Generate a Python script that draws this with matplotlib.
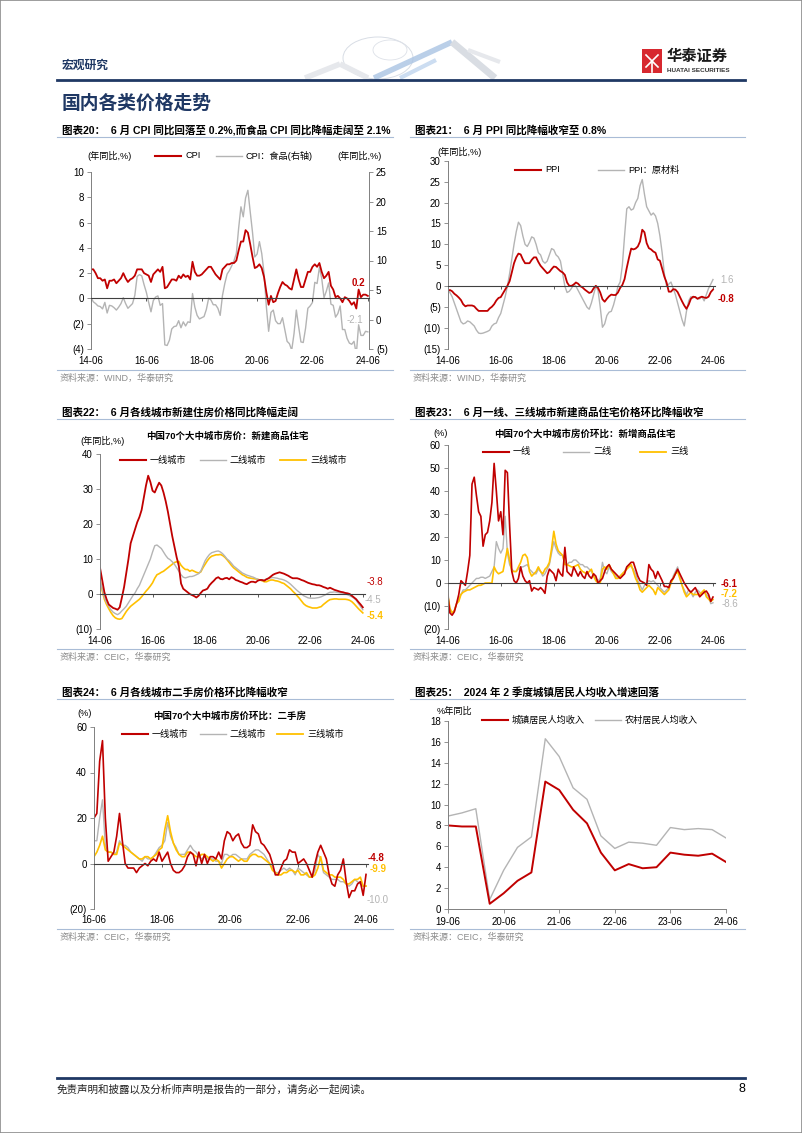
import matplotlib.pyplot as plt
from matplotlib.lines import Line2D
from matplotlib.patches import Rectangle, Ellipse
from matplotlib.ticker import FuncFormatter

plt.rcParams['font.family'] = ['Liberation Sans', 'Noto Sans CJK SC']

# ---------------- data ----------------
MONTH_TICKS = [0, 24, 48, 72, 96, 120]
MONTH_LABELS = ['14-06', '16-06', '18-06', '20-06', '22-06', '24-06']
SH_TICKS = [0, 24, 48, 72, 96]
SH_LABELS = ['16-06', '18-06', '20-06', '22-06', '24-06']
Q_TICKS = [0, 4, 8, 12, 16, 20]
Q_LABELS = ['19-06', '20-06', '21-06', '22-06', '23-06', '24-06']

# chart 20: CPI yoy, 2014-06 .. 2024-06
cpi = [2.3, 2.3, 2.0, 1.6, 1.6, 1.4, 1.5,
       0.8, 1.4, 1.4, 1.5, 1.2, 1.4, 1.6, 2.0, 1.6, 1.3, 1.5, 1.6,
       1.8, 2.3, 2.3, 2.3, 2.0, 1.9, 1.8, 1.3, 1.9, 2.1, 2.3, 2.1,
       2.5, 0.8, 0.9, 1.2, 1.5, 1.5, 1.4, 1.8, 1.6, 1.9, 1.7, 1.8,
       1.5, 2.9, 2.1, 1.8, 1.8, 1.9, 2.1, 2.3, 2.5, 2.5, 2.2, 1.9,
       1.7, 1.5, 2.3, 2.5, 2.7, 2.7, 2.8, 2.8, 3.0, 3.8, 4.5, 4.5,
       5.4, 5.2, 4.3, 3.3, 2.4, 2.5, 2.7, 2.4, 1.7, 0.5, -0.5, 0.2,
       -0.3, -0.2, 0.4, 0.9, 1.3, 1.1, 1.0, 0.8, 0.7, 1.5, 2.3, 1.5,
       0.9, 0.9, 1.5, 2.1, 2.1, 2.5, 2.7, 2.5, 2.8, 2.1, 1.6, 1.8,
       2.1, 1.0, 0.7, 0.1, 0.2, 0.0, -0.3, 0.1, 0.0, -0.2, -0.5, -0.3,
       -0.8, 0.7, 0.1, 0.3, 0.3, 0.2]
cpi_food = [3.7, 3.0, 2.7, 2.3, 2.2, 1.8, 2.9,
            1.1, 2.4, 2.3, 2.0, 1.6, 2.1, 2.7, 3.7, 2.7, 1.9, 2.3, 2.7,
            4.1, 7.3, 7.6, 7.4, 5.9, 4.6, 2.9, 1.3, 3.2, 3.8, 4.0, 2.4,
            2.7, -4.3, -4.4, -3.5, -1.6, -1.2, -1.1, -0.2, -1.4, -0.4, -1.1, -0.4,
            -0.5, 4.4, 2.1, 0.7, 0.1, 0.3, 0.5, 1.7, 3.6, 3.3, 2.5, 2.5,
            1.9, 0.7, 4.1, 6.1, 7.7, 8.3, 9.1, 10.0, 11.2, 15.5, 19.1, 17.4,
            20.6, 21.9, 18.3, 14.8, 10.6, 11.1, 13.2, 11.2, 7.9, 2.2, -2.0, 1.2,
            1.6, -0.2, -0.7, -0.7, 0.3, -1.7, -3.7, -4.1, -5.2, -2.4, 1.6, -1.2,
            -3.8, -3.9, -1.5, 1.9, 2.3, 2.9, 6.3, 6.1, 8.8, 7.0, 3.7, 4.8,
            6.2, 2.6, 2.4, 0.4, 1.0, 2.3, -1.7, -1.7, -3.2, -4.0, -4.2, -3.7,
            -5.9, -0.9, -2.7, -2.7, -2.0, -2.1]

# chart 21: PPI yoy and PPI raw materials yoy
ppi = [-1.1, -0.9, -1.2, -1.8, -2.2, -2.7, -3.3,
       -4.3, -4.8, -4.6, -4.6, -4.6, -4.8, -5.4, -5.9, -5.9, -5.9, -5.9, -5.9,
       -5.3, -4.9, -4.3, -3.4, -2.8, -2.6, -1.7, -0.8, 0.1, 1.2, 3.3, 5.5,
       6.9, 7.8, 7.6, 6.4, 5.5, 5.5, 5.5, 6.3, 6.9, 6.9, 5.8, 4.9,
       4.3, 3.7, 3.1, 3.4, 4.1, 4.7, 4.6, 4.1, 3.6, 3.3, 2.7, 0.9,
       0.1, 0.1, 0.4, 0.9, 0.6, 0.0, -0.3, -0.8, -1.2, -1.6, -1.4, -0.5,
       0.1, -0.4, -1.5, -3.1, -3.7, -3.0, -2.4, -2.0, -2.1, -2.1, -1.5, -0.4,
       0.3, 1.7, 4.4, 6.8, 9.0, 8.8, 9.0, 9.5, 10.7, 13.5, 12.9, 10.3,
       9.1, 8.8, 8.3, 8.0, 6.4, 6.1, 4.2, 2.3, 0.9, -1.3, -1.3, -0.7,
       -0.8, -1.4, -2.5, -3.6, -4.6, -5.4, -4.4, -3.0, -2.5, -2.6, -3.0, -2.7,
       -2.5, -2.7, -2.8, -2.5, -1.4, -0.8]
ppi_raw = [-1.0, -1.5, -2.5, -4.0, -5.5, -7.0, -8.5,
           -9.0, -8.8, -8.3, -8.5, -9.0, -9.5, -10.5, -11.2, -11.3, -11.2, -11.0, -10.8,
           -10.5, -9.5, -9.0, -8.8, -7.5, -6.5, -4.5, -2.5, 0.0, 3.0, 6.5, 10.0,
           13.0, 15.3, 14.5, 12.0, 10.0, 9.5, 10.5, 11.8, 11.5, 10.0, 8.0, 7.5,
           6.0, 5.5, 6.0, 7.5, 9.0, 8.7, 7.5, 7.0, 6.0, 3.0, 0.0, -1.5,
           -1.2, -0.5, 0.5, 0.0, -1.0, -2.0, -3.0, -4.0, -5.0, -5.5, -4.0, -2.0,
           0.0, -1.0, -5.0, -9.8, -9.0, -7.0, -6.2, -6.0, -4.5, -2.5, 0.0, 1.0,
           5.0, 12.0, 18.5, 19.0, 18.2, 18.5, 20.0, 21.0, 24.0, 25.5, 22.0, 19.0,
           18.0, 17.0, 17.5, 16.8, 15.0, 12.0, 8.0, 3.0, 0.0, 0.5, 1.0, -0.5,
           -2.0, -4.0, -6.0, -8.0, -9.5, -6.0, -3.5, -2.5, -2.8, -2.5, -3.0, -3.0,
           -2.5, -3.5, -2.0, -0.5, 0.5, 1.6]

# chart 22: new home price yoy by city tier
new_t1 = [7.5, 4.0, 0.5, -1.5, -3.0, -3.5, -4.0, -4.2, -4.5, -3.8,
          -1.0, 2.0, 6.0, 10.0, 14.5, 16.5, 18.5, 20.5, 22.0, 24.0,
          27.5, 31.0, 33.8, 32.0, 29.5, 29.0, 30.5, 31.8, 31.0, 29.0,
          26.5, 23.5, 20.0, 16.5, 13.5, 10.5, 8.0, 3.0, 1.5, 1.0,
          0.5, 0.0, -0.3, -0.6, -1.0, -0.5, 0.3, 1.0, 1.2, 1.5,
          2.5, 3.2, 3.8, 4.5, 4.8, 4.3, 4.2, 4.5, 4.6, 4.2,
          4.8, 4.5, 4.0, 3.8, 3.5, 3.3, 3.0, 2.8, 3.2, 3.5,
          3.5, 3.3, 3.8, 4.0, 4.0, 3.8, 4.2, 4.5, 5.0, 5.5,
          5.8, 6.0, 6.2, 6.0, 5.8, 5.5, 5.2, 4.8, 4.5, 4.5,
          4.5, 4.3, 4.0, 3.8, 3.5, 3.2, 3.0, 2.8, 2.7, 2.5,
          2.5, 2.3, 2.0, 1.8, 1.5, 1.8, 1.5, 1.2, 1.0, 0.8,
          0.6, 0.5, 0.3, 0.2, 0.0, -0.5, -1.0, -1.5, -2.3, -3.0, -3.8]
new_t2 = [4.0, 1.5, -1.0, -2.5, -3.5, -4.5, -5.2, -5.6, -5.9, -5.5,
          -4.8, -4.2, -3.5, -2.5, -1.5, -0.5, 0.3, 1.5, 2.5, 4.0,
          5.5, 7.0, 8.5, 10.0, 12.0, 13.8, 14.0, 13.5, 13.0, 12.0,
          11.0, 10.2, 9.8, 9.2, 8.5, 7.5, 6.5, 5.5, 4.8, 4.6,
          4.8, 5.0, 5.0, 5.2, 5.5, 5.8, 6.5, 8.0, 9.5, 10.5,
          11.3, 11.8, 12.0, 12.2, 12.3, 12.0, 11.5, 10.8, 10.0, 9.5,
          8.8, 8.0, 7.5, 7.0, 6.5, 6.0, 5.7, 5.4, 5.2, 5.0,
          4.8, 4.5, 4.2, 4.0, 3.8, 4.0, 4.3, 4.5, 4.6, 4.7,
          4.6, 4.5, 4.3, 4.2, 4.0, 3.7, 3.3, 2.8, 2.2, 1.6,
          1.0, 0.5, 0.0, -0.5, -0.8, -1.1, -1.2, -1.2, -1.2, -1.1,
          -1.0, -0.8, -0.5, -0.2, 0.2, 0.5, 0.5, 0.6, 0.5, 0.4,
          0.3, 0.2, 0.0, -0.2, -0.5, -0.8, -1.2, -1.8, -2.7, -3.6, -4.5]
new_t3 = [4.0, 1.0, -1.5, -3.0, -4.2, -5.3, -6.2, -6.8, -7.1, -7.2,
          -7.0, -6.0, -5.0, -4.2, -3.5, -3.0, -2.5, -2.0, -1.5, -0.8,
          0.0, 0.8, 1.5, 2.3, 3.2, 4.5, 5.5, 5.8, 6.2, 6.5,
          7.0, 7.5, 8.0, 8.5, 9.0, 9.2, 9.3, 8.2, 7.5, 7.0,
          7.0, 6.5, 6.8, 6.5, 6.2, 6.0, 6.3, 7.5, 8.5, 9.5,
          10.3, 10.8, 11.0, 11.2, 11.2, 11.3, 11.0, 10.5, 9.8, 9.0,
          8.2, 7.5, 7.0, 6.5, 6.0, 5.5, 5.2, 4.8, 4.6, 4.5,
          4.4, 4.3, 4.2, 4.0, 3.8, 3.5, 3.5, 3.8, 4.0, 4.0,
          3.8, 3.7, 3.5, 3.2, 3.0, 2.5, 2.0, 1.5, 0.8, 0.2,
          -0.5, -1.2, -2.0, -2.8, -3.3, -3.6, -3.8, -4.0, -4.0, -4.0,
          -3.8, -3.6, -3.0, -2.5, -2.0, -1.6, -1.5, -1.4, -1.4, -1.5,
          -1.5, -1.5, -1.5, -1.6, -1.8, -2.2, -2.8, -3.5, -4.2, -4.8, -5.4]

# chart 23: new home price mom (annualised) by city tier
mom_t1 = [-5, -13, -14, -12.5, -9, -5, 1, 0, -1, 5,
          12, 43, 46, 38, 31, 29, 16, 21, 22, 27,
          35, 52, 40, 27, 31, 21, 49, 48, 25, 5,
          1, 0, 2, 7, 3, 1, 0, 1, -3.5, -2,
          -2.5, -3, -2, -3, -4.5, 3, 6, 5, 4, 1,
          6, 4, 3, 15.5, 5, 4, 3, 7, 5, 3,
          5, 3, 2, 5, 3, 2, 4, 3, 0, 1,
          2, 5, 7, 8, 6, 5, 4, 3, 2, 3,
          4, 7, 8, 9, 9, 6, 3, 1, 0.5, 0,
          -1, 8, 6, 5, 2, 5, 3, 1, -1.5, -1.5,
          -2, 1, 2, 4, 6, 4, 2, 0, -1.5, -3,
          -4, -3, -2, -4, -6, -5, -4, -3.5, -5, -8, -6.1]
mom_t2 = [-3, -12, -13, -12, -9, -7, -5, -3, -3, -2,
          -1, 0, 1, 2, 2, 2.5, 2.5, 2, 2.5, 3,
          5, 7, 18, 15, 13, 15, 29, 13, 8, 6,
          5, 5, 6, 7, 7, 7.5, 8, 6, 5, 4,
          4, 6, 5, 3, 4, 6, 8, 13, 18, 15,
          13, 12, 12, 9, 8, 9, 9, 10, 10, 9,
          8, 8, 7, 7, 6, 5, 3, 2, 1, 2,
          9, 5, 4, 7, 5, 4, 3, 2, 3, 4,
          5, 7, 8, 7, 6, 4, 1, -1, -3, -1,
          0, 1, 0.5, 1, 0, -1, -2, -3, -4, -3,
          -2, 0, 3, 5, 7, 3, -1, -3, -5, -3,
          -4, -6, -4, -3, -4, -5, -4, -5, -6, -9, -8.6]
mom_t3 = [-5, -11, -13, -12, -9, -8, -5, -4, -3.5, -3,
          -3, -2.5, -2, -1.5, -1, -1, -0.5, 0, 0, 0,
          0, 7, 5, 4, 4.5, 5, 10, 15, 10, 5,
          5, 5, 7, 9, 12, 12.5, 11, 5, 3, 4,
          5, 7, 5, 4, 6, 7, 9, 15, 22.5, 17,
          14, 13, 12, 8, 8, 7.5, 7, 7, 7.5, 8,
          6, 5, 4.5, 4, 5, 6, 3, 1, 0, 0,
          6, 7, 6, 8, 6, 4, 2, 2, 3, 4,
          5, 6, 7, 8, 5, 2, 0, -3, -4, -3,
          -2, -1, -2, -3, -5, -2, -3, -4, -5, -4,
          -3, 0, 2, 4, 5, 2, -1, -4, -6, -5,
          -4, -5, -5, -5, -5, -4, -3, -6, -7, -8, -7.2]

# chart 24: second-hand home price mom (annualised), 2016-06 .. 2024-06
sh_t1 = [20, 22, 45, 54, 20, 1, 3, 5, 12, 22,
         10, 0, -2, -2, -2, -4, -2, -1, 0, -1,
         1, 2, 1, 5, 1, 3, 5, 0, -3, -4,
         -4, -3, -1, 3, 5, 4, -1, 5, 0, 4,
         0, 3, 3, 2, 5, 2, 10, 14, 13, 10,
         12, 13, 9, 7, 7, 8, 17, 14, 13, 9,
         8, 6, 4, 0, -5, -5, -2, 1, 2, 6,
         5, 5, 0, 1, 2, 0, -3, -6, 0, 5,
         8, 5, 2, -5, -9, -10, -5, -3, 2, -8,
         -15, -12, -12, -9, -8, -14, -4.8]
sh_t2 = [10, 10, 20, 28, 8, 5, 5, 4, 5, 10,
         8, 8, 7, 5, 4, 3, 2, 1, 3, 2,
         2, 3, 5, 7, 8, 10, 18, 12, 9, 7,
         4, 4, 4, 6, 8, 6, 5, 3, 2, 3,
         2, 2, 2, 1, 1, 0, 4, 4, 3, 4,
         4, 3, 2, 2, 2, 4, 5, 6, 6, 5,
         4, 2, 0, -2, -4, -4, -3, -2, -3, -2,
         -3, -5, -2, -3, -4, -5, -6, -6, -3, 4,
         2, -4, -5, -6, -7, -7, -7, -8, -8, -9,
         -10, -9, -7, -8, -9, -10, -10.0]
sh_t3 = [3, 5, 8, 12, 6, 5, 5, 4, 4, 9,
         8, 7, 6, 5, 4, 3, 2, 2, 3, 3,
         2, 3, 4, 6, 7, 15, 21, 14, 9, 6,
         4, 3, 3, 5, 5, 4, 3, 3, 4, 4,
         3, 2, 1, 2, 1, -2, 0, 2, 3, 3,
         2, 1, 2, 1, 1, 3, 4, 4, 3, 3,
         2, 1, 0, -3, -4, -5, -5, -4, -4, -3,
         -3, -4, -3, -5, -5, -4, -6, -6, -5, -2,
         3, -3, -4, -5, -5, -6, -6, -6, -7, -9,
         -9, -8, -7, -7, -6, -10, -9.9]

# chart 25: per-capita disposable income growth, quarterly 2019-06 .. 2024-06
urban_inc = [8.0, 7.9, 7.9, 0.5, 1.5, 2.7, 3.5, 12.2, 11.4, 9.5, 8.2,
             5.4, 3.7, 4.3, 3.9, 4.0, 5.4, 5.2, 5.1, 5.3, 4.5]
rural_inc = [8.9, 9.2, 9.6, 0.9, 3.7, 5.9, 6.9, 16.3, 14.6, 11.6, 10.5,
             7.0, 5.8, 6.4, 6.3, 6.1, 7.8, 7.6, 7.7, 7.6, 6.8]

# ---------------- style ----------------
RED = '#C00000'
GRAY = '#B4B4B4'
GOLD = '#FFC000'
NAVY = '#1F3864'
AXC = '#808080'
ZERO = '#404040'
RULE = '#A9BCD6'
SRC = '#8C8C8C'
TICK_FS = 7

W, H = 802, 1133
fig = plt.figure(figsize=(W / 100, H / 100), dpi=100)


def box(x0, y0, x1, y1):
    return [x0 / W, 1 - y1 / H, (x1 - x0) / W, (y1 - y0) / H]


def ftext(x, y, s, **kw):
    kw.setdefault('va', 'center')
    fig.text(x / W, 1 - y / H, s, **kw)


def fline(x0, x1, y0, y1=None, **kw):
    if y1 is None:
        y1 = y0
    fig.add_artist(Line2D([x0 / W, x1 / W], [1 - y0 / H, 1 - y1 / H], **kw))


paren = FuncFormatter(lambda v, p: '(%g)' % abs(v) if v < 0 else '%g' % v)


def style_y(ax, lo, hi, step, side='left'):
    ax.set_ylim(lo, hi)
    ax.set_yticks(list(range(lo, hi + 1, step)))
    ax.yaxis.set_major_formatter(paren)
    ax.tick_params(axis='y', direction='out', length=3, width=0.6, color=AXC,
                   labelsize=TICK_FS, pad=2)
    for s in ['top', 'right', 'left', 'bottom']:
        ax.spines[s].set_visible(False)
    ax.spines[side].set_visible(True)
    ax.spines[side].set_color(AXC)
    ax.spines[side].set_linewidth(0.7)


def zero_x(ax, ticks, labels, pad=5):
    ax.spines['bottom'].set_visible(True)
    ax.spines['bottom'].set_position(('data', 0))
    ax.spines['bottom'].set_color(ZERO)
    ax.spines['bottom'].set_linewidth(0.8)
    ax.set_xticks(ticks)
    ax.tick_params(axis='x', direction='out', length=2.5, width=0.6, color=ZERO,
                   labelbottom=False)
    for t, l in zip(ticks, labels):
        ax.annotate(l, xy=(t, 0), xycoords=('data', 'axes fraction'),
                    xytext=(0, -pad), textcoords='offset points',
                    ha='center', va='top', fontsize=TICK_FS)


def legend(y, items):
    for x0, color, lw, label in items:
        fline(x0, x0 + 26, y, color=color, lw=lw)
        ftext(x0 + 30, y, label, fontsize=6.6, ha='left')


def frame(title, ytitle, ysrc, x0, x1, src):
    ftext(x0 + 5, ytitle, title, fontsize=7.6, fontweight='bold', ha='left')
    fline(x0, x1, ytitle + 7, color=RULE, lw=0.8)
    fline(x0, x1, ysrc - 8, color=RULE, lw=0.8)
    ftext(x0 + 3, ysrc, src, fontsize=6.5, color=SRC, ha='left')


# ---------------- page furniture ----------------
fig.add_artist(Rectangle((0, 0), 1, 1, transform=fig.transFigure, fill=False,
                         edgecolor='#8C8C8C', lw=1.2))
# faint header graphics: globe and zig-zag ribbons
fig.add_artist(Ellipse((378 / W, 1 - 58 / H), 70 / W, 42 / H, facecolor='none',
                       edgecolor='#D8DDE5', lw=0.7))
fig.add_artist(Ellipse((390 / W, 1 - 50 / H), 34 / W, 20 / H, facecolor='none',
                       edgecolor='#DDE1E8', lw=0.6))
fline(305, 340, 78, 64, color='#E6E8EC', lw=4, solid_capstyle='butt')
fline(340, 368, 64, 78, color='#E6E8EC', lw=4, solid_capstyle='butt')
fline(374, 452, 78, 42, color='#A9C3E3', lw=4, alpha=0.8, solid_capstyle='butt')
fline(400, 436, 78, 60, color='#CCDDF1', lw=3, solid_capstyle='butt')
fline(452, 495, 42, 78, color='#D9DDE3', lw=5, solid_capstyle='butt')
fline(468, 500, 50, 62, color='#E6E8EC', lw=3, solid_capstyle='butt')
ftext(62, 66, '宏观研究', fontsize=8.5, fontweight='bold', color=NAVY, ha='left')
fig.add_artist(Rectangle((642 / W, 1 - 73 / H), 20 / W, 24 / H,
                         transform=fig.transFigure, facecolor='#D7282F', edgecolor='none'))
fline(646, 658, 55, 67, color='white', lw=1.2)
fline(658, 646, 55, 67, color='white', lw=1.2)
fline(652, 652, 62, 72, color='white', lw=1.2)
ftext(667, 57, '华泰证券', fontsize=11, fontweight='bold', color='#1A1A1A', ha='left')
ftext(667, 70, 'HUATAI SECURITIES', fontsize=4.6, fontweight='bold', color='#333333', ha='left')
fline(57, 745, 79.5, color=NAVY, lw=2.0)
ftext(62, 104, '国内各类价格走势', fontsize=13.5, fontweight='bold', color=NAVY, ha='left')

fline(57, 745, 1077.5, color=NAVY, lw=2.0)
ftext(57, 1089, '免责声明和披露以及分析师声明是报告的一部分，请务必一起阅读。', fontsize=7.6,
      ha='left', color='#222222', style='italic')
ftext(745, 1089, '8', fontsize=9, ha='right')

# ---------------- chart 20 ----------------
frame('图表20：  6 月 CPI 同比回落至 0.2%,而食品 CPI 同比降幅走阔至 2.1%', 130, 378,
      57, 393, '资料来源：WIND，华泰研究')
ax = fig.add_axes(box(91, 172, 369, 349))
ax2 = ax.twinx()
x = range(len(cpi))
ax2.plot(x, cpi_food, color=GRAY, lw=1.0)
ax.plot(x, cpi, color=RED, lw=1.3)
ax.set_zorder(ax2.get_zorder() + 1)
ax.patch.set_visible(False)
ax.set_xlim(0, 120.5)
style_y(ax, -4, 10, 2)
style_y(ax2, -5, 25, 5, side='right')
zero_x(ax, MONTH_TICKS, MONTH_LABELS)
ax2.tick_params(axis='x', bottom=False, labelbottom=False)
ax.annotate('%.1f' % cpi[-1], xy=(120, cpi[-1]), xytext=(-7, 9), textcoords='offset points',
            ha='center', va='center', fontsize=7, fontweight='bold', color=RED)
ax2.annotate('%.1f' % cpi_food[-1], xy=(120, cpi_food[-1]), xytext=(-9, 8.5),
             textcoords='offset points', ha='center', va='center', fontsize=7, color=GRAY)
ftext(87, 156, '(年同比,%)', fontsize=6.6, ha='left')
ftext(337, 156, '(年同比,%)', fontsize=6.6, ha='left')
legend(156, [(155, RED, 1.5, 'CPI'), (216, GRAY, 1.0, 'CPI：食品(右轴)')])

# ---------------- chart 21 ----------------
frame('图表21：  6 月 PPI 同比降幅收窄至 0.8%', 130, 378, 410, 745, '资料来源：WIND，华泰研究')
ax = fig.add_axes(box(447.7, 160.7, 715.2, 349))
x = range(len(ppi))
ax.plot(x, ppi_raw, color=GRAY, lw=1.0)
ax.plot(x, ppi, color=RED, lw=1.3)
ax.set_xlim(0, 121)
style_y(ax, -15, 30, 5)
zero_x(ax, MONTH_TICKS, MONTH_LABELS)
ax.annotate('%.1f' % ppi_raw[-1], xy=(120, ppi_raw[-1]), xytext=(5, 0), textcoords='offset points',
            ha='left', va='center', fontsize=7, color=GRAY)
ax.annotate('%.1f' % ppi[-1], xy=(120, ppi[-1]), xytext=(3, -7), textcoords='offset points',
            ha='left', va='center', fontsize=7, fontweight='bold', color=RED)
ftext(437, 152, '(年同比,%)', fontsize=6.6, ha='left')
legend(170, [(515, RED, 1.5, 'PPI'), (598, GRAY, 1.0, 'PPI：原材料')])

# ---------------- chart 22 ----------------
frame('图表22：  6 月各线城市新建住房价格同比降幅走阔', 412, 657, 57, 393, '资料来源：CEIC，华泰研究')
ax = fig.add_axes(box(100, 454, 365, 629))
x = range(len(new_t1))
ax.plot(x, new_t3, color=GOLD, lw=1.2)
ax.plot(x, new_t2, color=GRAY, lw=1.0)
ax.plot(x, new_t1, color=RED, lw=1.3)
ax.set_xlim(0, 121)
style_y(ax, -10, 40, 10)
zero_x(ax, MONTH_TICKS, MONTH_LABELS)
ftext(367, 582, '%.1f' % new_t1[-1], fontsize=7, color=RED, ha='left')
ftext(365, 600, '%.1f' % new_t2[-1], fontsize=7, color=GRAY, ha='left')
ftext(367, 616, '%.1f' % new_t3[-1], fontsize=7, color=GOLD, ha='left', fontweight='bold')
ftext(227, 436, '中国70个大中城市房价：新建商品住宅', fontsize=6.8, fontweight='bold', ha='center')
ftext(80, 441, '(年同比,%)', fontsize=6.6, ha='left')
legend(460, [(120, RED, 1.5, '一线城市'), (200, GRAY, 1.0, '二线城市'), (280, GOLD, 1.3, '三线城市')])

# ---------------- chart 23 ----------------
frame('图表23：  6 月一线、三线城市新建商品住宅价格环比降幅收窄', 412, 657, 410, 745,
      '资料来源：CEIC，华泰研究')
ax = fig.add_axes(box(447.7, 445, 715.2, 629))
x = range(len(mom_t1))
ax.plot(x, mom_t2, color=GRAY, lw=1.0)
ax.plot(x, mom_t3, color=GOLD, lw=1.2)
ax.plot(x, mom_t1, color=RED, lw=1.2)
ax.set_xlim(0, 121)
style_y(ax, -20, 60, 10)
zero_x(ax, MONTH_TICKS, MONTH_LABELS)
ftext(721, 584, '%.1f' % mom_t1[-1], fontsize=7, color=RED, ha='left', fontweight='bold')
ftext(721, 594, '%.1f' % mom_t3[-1], fontsize=7, color=GOLD, ha='left', fontweight='bold')
ftext(722, 604, '%.1f' % mom_t2[-1], fontsize=7, color=GRAY, ha='left')
ftext(585, 434, '中国70个大中城市房价环比：新增商品住宅', fontsize=6.8, fontweight='bold', ha='center')
ftext(433, 434, '(%)', fontsize=6.6, ha='left')
legend(452, [(483, RED, 1.5, '一线'), (563, GRAY, 1.0, '二线'), (640, GOLD, 1.3, '三线')])

# ---------------- chart 24 ----------------
frame('图表24：  6 月各线城市二手房价格环比降幅收窄', 692, 937, 57, 393, '资料来源：CEIC，华泰研究')
ax = fig.add_axes(box(94, 727, 368, 909))
x = range(len(sh_t1))
ax.plot(x, sh_t2, color=GRAY, lw=1.0)
ax.plot(x, sh_t3, color=GOLD, lw=1.2)
ax.plot(x, sh_t1, color=RED, lw=1.2)
ax.set_xlim(0, 96.7)
style_y(ax, -20, 60, 20)
zero_x(ax, SH_TICKS, SH_LABELS, pad=4)
ftext(368, 858, '%.1f' % sh_t1[-1], fontsize=7, color=RED, ha='left', fontweight='bold')
ftext(370, 869, '%.1f' % sh_t3[-1], fontsize=7, color=GOLD, ha='left', fontweight='bold')
ftext(367, 900, '%.1f' % sh_t2[-1], fontsize=7, color=GRAY, ha='left')
ftext(230, 716, '中国70个大中城市房价环比：二手房', fontsize=6.8, fontweight='bold', ha='center')
ftext(77, 713, '(%)', fontsize=6.6, ha='left')
legend(734, [(122, RED, 1.5, '一线城市'), (200, GRAY, 1.0, '二线城市'), (277, GOLD, 1.3, '三线城市')])

# ---------------- chart 25 ----------------
frame('图表25：  2024 年 2 季度城镇居民人均收入增速回落', 692, 937, 410, 745, '资料来源：CEIC，华泰研究')
ax = fig.add_axes(box(448, 721, 726, 909))
x = range(len(urban_inc))
ax.plot(x, rural_inc, color=GRAY, lw=1.0)
ax.plot(x, urban_inc, color=RED, lw=1.4)
ax.set_xlim(0, 20)
style_y(ax, 0, 18, 2)
ax.spines['bottom'].set_visible(True)
ax.spines['bottom'].set_color(AXC)
ax.spines['bottom'].set_linewidth(0.7)
ax.set_xticks(Q_TICKS)
ax.set_xticklabels(Q_LABELS)
ax.tick_params(axis='x', direction='out', length=3, width=0.6, color=AXC, labelsize=TICK_FS, pad=3)
ftext(437, 711, '%年同比', fontsize=6.6, ha='left')
legend(720, [(482, RED, 1.5, '城镇居民人均收入'), (595, GRAY, 1.0, '农村居民人均收入')])

fig.savefig('out.png', dpi=100)
